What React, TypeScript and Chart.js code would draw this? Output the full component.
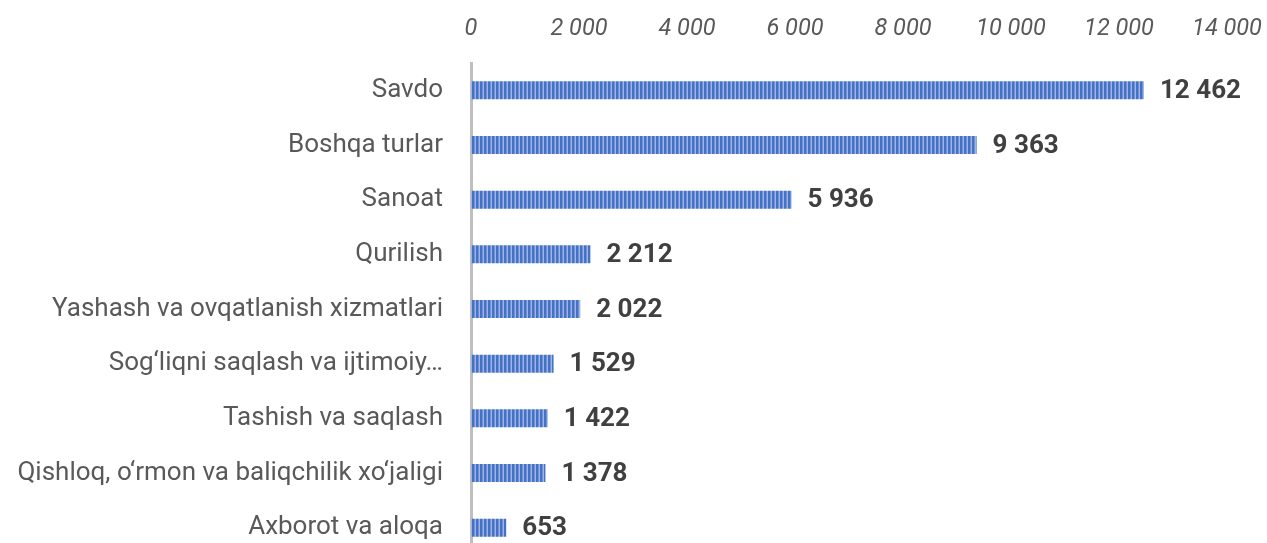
import React, { useEffect, useRef } from "react";
import { Chart, registerables } from "chart.js";

Chart.register(...registerables);

const categories = [
  "Savdo",
  "Boshqa turlar",
  "Sanoat",
  "Qurilish",
  "Yashash va ovqatlanish xizmatlari",
  "Sog‘liqni saqlash va ijtimoiy…",
  "Tashish va saqlash",
  "Qishloq, o‘rmon va baliqchilik xo‘jaligi",
  "Axborot va aloqa",
];
const values = [12462, 9363, 5936, 2212, 2022, 1529, 1422, 1378, 653];
const xTicks = [0, 2000, 4000, 6000, 8000, 10000, 12000, 14000];

const fmt = (v: number) =>
  String(Math.round(v)).replace(/\B(?=(\d{3})+(?!\d))/g, " ");

function makePattern(): CanvasPattern | string {
  const c = document.createElement("canvas");
  c.width = 4;
  c.height = 4;
  const g = c.getContext("2d");
  if (!g) return "#4472C4";
  const cols = ["#4472C4", "#4472C4", "#6f90d4", "#9fb6e4"];
  cols.forEach((col, i) => {
    g.fillStyle = col;
    g.fillRect(i, 0, 1, 4);
  });
  const p = g.createPattern(c, "repeat");
  return p || "#4472C4";
}

const labelPlugin = {
  id: "valueLabels",
  afterDatasetsDraw(chart: any) {
    const ctx = chart.ctx;
    const meta = chart.getDatasetMeta(0);
    ctx.save();
    ctx.font = "bold 26px Roboto";
    ctx.fillStyle = "#404040";
    ctx.textAlign = "left";
    ctx.textBaseline = "middle";
    meta.data.forEach((bar: any, i: number) => {
      ctx.fillText(fmt(values[i]), bar.x + 16, bar.y + 1);
    });
    ctx.restore();
  },
};

export default function App() {
  const ref = useRef<HTMLCanvasElement | null>(null);
  useEffect(() => {
    if (!ref.current) return;
    const chart = new Chart(ref.current, {
      type: "bar",
      data: {
        labels: categories,
        datasets: [
          {
            data: values,
            backgroundColor: makePattern() as any,
            borderWidth: 0,
            categoryPercentage: 1,
            barPercentage: 0.33,
          },
        ],
      },
      options: {
        indexAxis: "y",
        animation: false,
        responsive: false,
        maintainAspectRatio: false,
        layout: { padding: { left: 0, right: 40, top: 0, bottom: 1 } },
        plugins: {
          legend: { display: false },
          tooltip: { enabled: false },
        },
        scales: {
          x: {
            position: "top",
            min: 0,
            max: 14000,
            afterBuildTicks: (scale: any) => {
              scale.ticks = xTicks.map((v) => ({ value: v }));
            },
            afterFit: (scale: any) => {
              scale.height = 63;
              scale.paddingLeft = 0;
              scale.paddingRight = 0;
            },
            grid: { display: false, drawTicks: false },
            border: { display: false },
            ticks: {
              padding: 20,
              color: "#595959",
              font: { family: "Roboto", size: 23.5, style: "italic" },
              callback: (v: any) => fmt(Number(v)),
              maxRotation: 0,
              autoSkip: false,
            },
          },
          y: {
            afterFit: (scale: any) => {
              scale.width = 471;
              scale.paddingTop = 0;
              scale.paddingBottom = 0;
            },
            grid: { display: false, drawTicks: false },
            border: { display: true, color: "#bfbfbf", width: 3 },
            ticks: {
              padding: 28,
              color: "#595959",
              font: { family: "Roboto", size: 26 },
              autoSkip: false,
            },
          },
        },
      },
      plugins: [labelPlugin],
    });
    return () => chart.destroy();
  }, []);
  return (
    <div
      style={{
        position: "fixed",
        left: 0,
        top: 0,
        width: 1267,
        height: 543,
        overflow: "hidden",
        background: "#fff",
      }}
    >
      <canvas ref={ref} width={1267} height={556} style={{ display: "block" }} />
    </div>
  );
}
